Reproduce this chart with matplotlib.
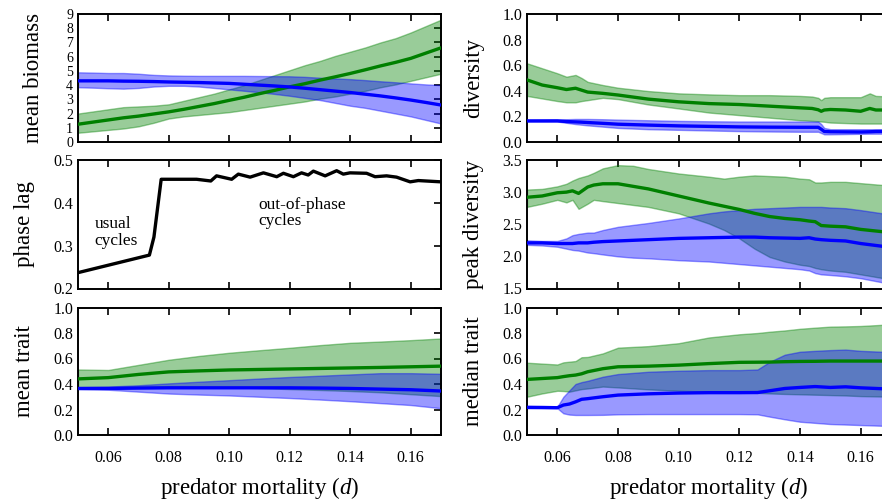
# predator-prey trait panels vs predator mortality
import numpy as np
import matplotlib.pyplot as plt
import matplotlib as mpl

mpl.rcParams['font.family'] = 'serif'
mpl.rcParams['font.serif'] = ['Liberation Serif', 'DejaVu Serif']
mpl.rcParams['mathtext.fontset'] = 'custom'
mpl.rcParams['mathtext.rm'] = 'Liberation Serif'
mpl.rcParams['mathtext.it'] = 'Liberation Serif:italic'
mpl.rcParams['font.size'] = 11

GREEN = '#008000'
BLUE = '#0000ff'

###################### mean biomass ######################
d_bio = [0.05, 0.055, 0.06, 0.065, 0.07, 0.075, 0.08, 0.085, 0.09, 0.095, 0.10, 0.105,
         0.11, 0.115, 0.12, 0.125, 0.13, 0.135, 0.14, 0.145, 0.15, 0.155, 0.16, 0.165, 0.17]
bio_g = [1.25, 1.4, 1.55, 1.7, 1.82, 1.97, 2.12, 2.3, 2.5, 2.7, 2.93, 3.15, 3.4, 3.63,
         3.88, 4.1, 4.35, 4.58, 4.82, 5.08, 5.35, 5.6, 5.88, 6.25, 6.62]
bio_g_hi = [2.0, 2.15, 2.3, 2.45, 2.5, 2.55, 2.65, 2.9, 3.15, 3.4, 3.7, 4.0, 4.35, 4.7,
            5.05, 5.4, 5.7, 6.05, 6.35, 6.65, 7.0, 7.3, 7.7, 8.15, 8.6]
bio_g_lo = [0.65, 0.75, 0.85, 0.95, 1.1, 1.35, 1.65, 1.8, 1.9, 2.0, 2.1, 2.25, 2.4, 2.55,
            2.7, 2.85, 3.05, 3.2, 3.4, 3.6, 3.85, 4.05, 4.3, 4.55, 4.8]
bio_b = [4.3, 4.3, 4.3, 4.28, 4.27, 4.25, 4.22, 4.2, 4.18, 4.15, 4.12, 4.06, 4.0, 3.94,
         3.87, 3.78, 3.68, 3.58, 3.48, 3.36, 3.24, 3.1, 2.95, 2.78, 2.6]
bio_b_hi = [4.9, 4.88, 4.85, 4.85, 4.8, 4.72, 4.68, 4.66, 4.65, 4.65, 4.65, 4.65, 4.64,
            4.63, 4.62, 4.58, 4.52, 4.47, 4.42, 4.35, 4.27, 4.2, 4.12, 4.05, 4.0]
bio_b_lo = [3.85, 3.82, 3.78, 3.75, 3.8, 3.9, 3.95, 3.95, 3.9, 3.8, 3.7, 3.6, 3.5, 3.38,
            3.25, 3.1, 2.95, 2.75, 2.55, 2.4, 2.2, 2.0, 1.8, 1.55, 1.3]

###################### phase lag ######################
d_lag = [0.05, 0.0736, 0.0751, 0.0775, 0.0892, 0.0939, 0.0958, 0.1008, 0.103, 0.1069,
         0.1113, 0.1157, 0.1179, 0.1212, 0.1239, 0.1261, 0.1278, 0.1317, 0.1355, 0.1377,
         0.1399, 0.1454, 0.1482, 0.152, 0.1553, 0.1598, 0.1625, 0.17]
lag = [0.237, 0.278, 0.320, 0.455, 0.455, 0.451, 0.463, 0.455, 0.467, 0.460,
       0.470, 0.461, 0.469, 0.461, 0.470, 0.465, 0.474, 0.463, 0.475, 0.467,
       0.470, 0.469, 0.461, 0.463, 0.460, 0.449, 0.452, 0.449]

###################### mean trait ######################
d_mt = [0.05, 0.06, 0.07, 0.08, 0.09, 0.10, 0.11, 0.12, 0.13, 0.14, 0.15, 0.16, 0.17]
mt_g = [0.44, 0.45, 0.475, 0.495, 0.503, 0.51, 0.514, 0.518, 0.522, 0.526, 0.53, 0.535, 0.54]
mt_g_hi = [0.514, 0.51, 0.55, 0.59, 0.62, 0.645, 0.665, 0.684, 0.705, 0.723, 0.733, 0.744, 0.757]
mt_g_lo = [0.375, 0.375, 0.378, 0.38, 0.378, 0.375, 0.368, 0.36, 0.353, 0.345, 0.335, 0.32, 0.305]
mt_b = [0.365, 0.365, 0.368, 0.37, 0.37, 0.37, 0.37, 0.37, 0.368, 0.365, 0.36, 0.355, 0.345]
mt_b_hi = [0.375, 0.38, 0.39, 0.405, 0.418, 0.43, 0.443, 0.455, 0.465, 0.475, 0.485, 0.485, 0.48]
mt_b_lo = [0.36, 0.355, 0.34, 0.325, 0.317, 0.31, 0.3, 0.29, 0.278, 0.265, 0.25, 0.235, 0.21]

###################### diversity ######################
d_div = [0.05, 0.055, 0.06, 0.063, 0.066, 0.068, 0.07, 0.075, 0.08, 0.09, 0.10, 0.11,
         0.12, 0.13, 0.14, 0.144, 0.146, 0.147, 0.148, 0.15, 0.155, 0.16, 0.163, 0.165, 0.17]
div_g = [0.485, 0.445, 0.424, 0.41, 0.42, 0.405, 0.39, 0.38, 0.367, 0.335, 0.314, 0.30,
         0.293, 0.28, 0.267, 0.262, 0.252, 0.24, 0.25, 0.254, 0.25, 0.24, 0.262, 0.25, 0.25]
div_g_hi = [0.615, 0.576, 0.537, 0.51, 0.524, 0.50, 0.47, 0.445, 0.424, 0.398, 0.38, 0.372,
            0.366, 0.366, 0.36, 0.355, 0.345, 0.327, 0.345, 0.35, 0.35, 0.35, 0.38, 0.36, 0.355]
div_g_lo = [0.36, 0.34, 0.32, 0.31, 0.31, 0.32, 0.327, 0.345, 0.335, 0.293, 0.262, 0.23,
            0.21, 0.19, 0.17, 0.165, 0.162, 0.16, 0.158, 0.152, 0.148, 0.144, 0.144, 0.144, 0.144]
div_b = [0.165, 0.165, 0.165, 0.16, 0.157, 0.155, 0.152, 0.146, 0.139, 0.132, 0.126, 0.122,
         0.118, 0.116, 0.115, 0.115, 0.115, 0.1, 0.082, 0.08, 0.079, 0.078, 0.08, 0.082, 0.083]
div_b_hi = [0.17, 0.172, 0.175, 0.178, 0.18, 0.18, 0.18, 0.178, 0.175, 0.17, 0.165, 0.162,
            0.16, 0.16, 0.16, 0.16, 0.16, 0.14, 0.11, 0.1, 0.1, 0.1, 0.1, 0.1, 0.1]
div_b_lo = [0.16, 0.16, 0.16, 0.15, 0.14, 0.135, 0.13, 0.12, 0.11, 0.1, 0.095, 0.09,
            0.085, 0.082, 0.08, 0.08, 0.08, 0.07, 0.06, 0.06, 0.062, 0.064, 0.065, 0.065, 0.065]

###################### peak diversity ######################
d_pk = [0.05, 0.055, 0.06, 0.063, 0.065, 0.067, 0.07, 0.072, 0.075, 0.08, 0.085, 0.09, 0.10,
        0.11, 0.115, 0.12, 0.125, 0.13, 0.135, 0.14, 0.143, 0.145, 0.147, 0.15, 0.155, 0.16, 0.17]
pk_g = [2.92, 2.94, 2.99, 3.0, 3.02, 2.98, 3.08, 3.11, 3.13, 3.13, 3.09, 3.05, 2.94,
        2.83, 2.78, 2.73, 2.67, 2.62, 2.59, 2.57, 2.55, 2.54, 2.48, 2.47, 2.46, 2.42, 2.37]
pk_g_hi = [3.04, 3.05, 3.09, 3.13, 3.18, 3.22, 3.26, 3.3, 3.37, 3.42, 3.41, 3.36, 3.29,
           3.24, 3.21, 3.24, 3.26, 3.25, 3.24, 3.21, 3.2, 3.15, 3.15, 3.16, 3.16, 3.14, 3.1]
pk_g_lo = [2.77, 2.82, 2.88, 2.84, 2.88, 2.74, 2.82, 2.88, 2.86, 2.83, 2.8, 2.77, 2.67,
           2.51, 2.41, 2.28, 2.12, 1.99, 1.92, 1.87, 1.85, 1.82, 1.8, 1.78, 1.76, 1.72, 1.64]
pk_b = [2.21, 2.21, 2.2, 2.2, 2.2, 2.21, 2.21, 2.22, 2.23, 2.24, 2.25, 2.26, 2.28,
        2.29, 2.295, 2.3, 2.3, 2.29, 2.285, 2.28, 2.29, 2.27, 2.26, 2.25, 2.24, 2.2, 2.14]
pk_b_hi = [2.25, 2.24, 2.24, 2.28, 2.33, 2.35, 2.37, 2.37, 2.41, 2.46, 2.49, 2.52, 2.59,
           2.67, 2.7, 2.72, 2.74, 2.75, 2.76, 2.77, 2.77, 2.77, 2.77, 2.76, 2.75, 2.72, 2.65]
pk_b_lo = [2.18, 2.17, 2.15, 2.12, 2.1, 2.09, 2.06, 2.05, 2.03, 2.0, 1.98, 1.97, 1.94,
           1.92, 1.9, 1.88, 1.86, 1.84, 1.82, 1.8, 1.78, 1.74, 1.72, 1.71, 1.69, 1.66, 1.57]

###################### median trait ######################
d_md = [0.05, 0.055, 0.06, 0.062, 0.064, 0.066, 0.068, 0.07, 0.075, 0.08, 0.09, 0.10,
        0.11, 0.12, 0.126, 0.13, 0.135, 0.14, 0.145, 0.15, 0.155, 0.16, 0.17]
md_g = [0.436, 0.443, 0.45, 0.458, 0.465, 0.47, 0.48, 0.496, 0.52, 0.535, 0.54, 0.548,
        0.56, 0.57, 0.571, 0.572, 0.575, 0.577, 0.578, 0.58, 0.58, 0.58, 0.58]
md_g_hi = [0.567, 0.56, 0.553, 0.57, 0.575, 0.58, 0.61, 0.612, 0.64, 0.685, 0.697, 0.72,
           0.765, 0.79, 0.8, 0.81, 0.82, 0.833, 0.842, 0.85, 0.852, 0.855, 0.868]
md_g_lo = [0.30, 0.326, 0.347, 0.345, 0.34, 0.35, 0.36, 0.365, 0.38, 0.373, 0.358, 0.347,
           0.34, 0.334, 0.33, 0.326, 0.322, 0.319, 0.316, 0.313, 0.31, 0.305, 0.30]
md_b = [0.217, 0.216, 0.214, 0.235, 0.243, 0.26, 0.28, 0.285, 0.30, 0.313, 0.323, 0.329,
        0.332, 0.332, 0.333, 0.347, 0.365, 0.373, 0.38, 0.373, 0.378, 0.37, 0.36]
md_b_hi = [0.227, 0.225, 0.222, 0.30, 0.35, 0.40, 0.415, 0.425, 0.457, 0.478, 0.496, 0.504,
           0.509, 0.509, 0.514, 0.574, 0.63, 0.653, 0.66, 0.666, 0.67, 0.66, 0.65]
md_b_lo = [0.21, 0.21, 0.21, 0.17, 0.16, 0.157, 0.157, 0.157, 0.158, 0.162, 0.164, 0.164,
           0.164, 0.164, 0.162, 0.144, 0.123, 0.104, 0.095, 0.086, 0.082, 0.078, 0.07]

xticks = [0.06, 0.08, 0.10, 0.12, 0.14, 0.16]

def band(ax, d, m, lo, hi, col):
    ax.fill_between(d, lo, hi, color=col, alpha=0.4, linewidth=1.0, zorder=2)
    ax.plot(d, m, color=col, lw=2.4, zorder=3)

def style(ax, ylim, yticks, label, bottom=False, ysize=11.5):
    ax.set_xlim(0.05, 0.17)
    ax.set_ylim(*ylim)
    ax.set_yticks(yticks)
    ax.set_xticks(xticks)
    for s in ax.spines.values():
        s.set_linewidth(1.4)
    ax.tick_params(axis='x', direction='in', top=True, length=5, width=1.2, pad=11,
                   labelsize=11.5)
    ax.tick_params(axis='y', direction='in', left=True, right=True, length=5, width=1.2,
                   labelsize=ysize)
    ax.tick_params(axis='y', which='major', left=False)
    ax.set_ylabel(label, fontsize=16.5, labelpad=13)
    if bottom:
        ax.set_xlabel(r'predator mortality ($d$)', fontsize=16.5, labelpad=6)
        ax.set_xticklabels(['0.06', '0.08', '0.10', '0.12', '0.14', '0.16'])
    else:
        ax.set_xticklabels([])

fig = plt.figure(figsize=(8.82, 5.04), dpi=100)
W, H = 882.0, 504.0
rows = [(14, 142), (160, 288.5), (307.5, 435)]

def add(col, row):
    top, bot = rows[row]
    if col == 0:
        l, w = 78, 363
    else:
        l, w = 527, 364
    return fig.add_axes([l / W, (H - bot) / H, w / W, (bot - top) / H])

ax1 = add(0, 0)
band(ax1, d_bio, bio_g, bio_g_lo, bio_g_hi, GREEN)
band(ax1, d_bio, bio_b, bio_b_lo, bio_b_hi, BLUE)
style(ax1, (0, 9), range(0, 10), 'mean biomass', ysize=10)
ax1.yaxis.labelpad = 16

ax2 = add(0, 1)
ax2.plot(d_lag, lag, color='k', lw=2.4)
ax2.text(0.0554, 0.331, 'usual\ncycles', fontsize=12.5, va='center', linespacing=1.05)
ax2.text(0.1095, 0.376, 'out-of-phase\ncycles', fontsize=12.5, va='center', linespacing=1.05)
style(ax2, (0.2, 0.5), [0.2, 0.3, 0.4, 0.5], 'phase lag')

ax3 = add(0, 2)
band(ax3, d_mt, mt_g, mt_g_lo, mt_g_hi, GREEN)
band(ax3, d_mt, mt_b, mt_b_lo, mt_b_hi, BLUE)
style(ax3, (0, 1), [0, 0.2, 0.4, 0.6, 0.8, 1.0], 'mean trait', bottom=True)

ax4 = add(1, 0)
band(ax4, d_div, div_g, div_g_lo, div_g_hi, GREEN)
band(ax4, d_div, div_b, div_b_lo, div_b_hi, BLUE)
style(ax4, (0, 1), [0, 0.2, 0.4, 0.6, 0.8, 1.0], 'diversity')

ax5 = add(1, 1)
band(ax5, d_pk, pk_g, pk_g_lo, pk_g_hi, GREEN)
band(ax5, d_pk, pk_b, pk_b_lo, pk_b_hi, BLUE)
style(ax5, (1.5, 3.5), [1.5, 2.0, 2.5, 3.0, 3.5], 'peak diversity')

ax6 = add(1, 2)
band(ax6, d_md, md_g, md_g_lo, md_g_hi, GREEN)
band(ax6, d_md, md_b, md_b_lo, md_b_hi, BLUE)
style(ax6, (0, 1), [0, 0.2, 0.4, 0.6, 0.8, 1.0], 'median trait', bottom=True)

for ax in (ax1, ax3, ax4, ax6):
    ax.yaxis.set_major_formatter(mpl.ticker.FormatStrFormatter('%.1f'))
ax1.yaxis.set_major_formatter(mpl.ticker.FormatStrFormatter('%d'))

fig.savefig('out.png', dpi=100)
